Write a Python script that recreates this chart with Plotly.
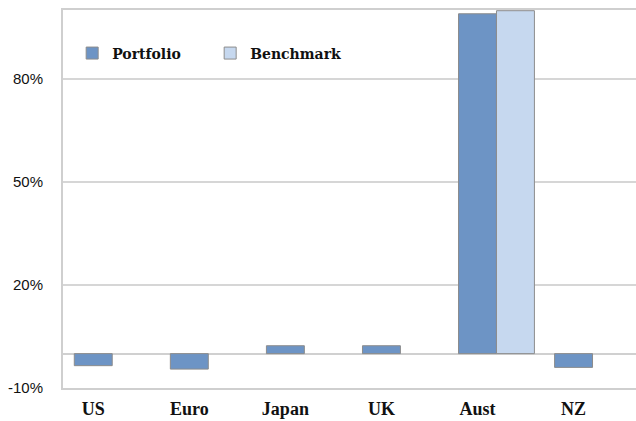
import plotly.graph_objects as go

regions = ["US", "Euro", "Japan", "UK", "Aust", "NZ"]
portfolio = [-3.5, -4.5, 2.3, 2.3, 98.9, -4.0]
benchmark = [None, None, None, None, None, None]
benchmark[4] = 99.8
y_ticks = [-10, 20, 50, 80]
y_tick_text = ["-10%", "20%", "50%", "80%"]

fig = go.Figure()
fig.add_trace(go.Bar(
    name="Portfolio", x=regions, y=portfolio,
    width=0.395, offset=-0.1975,
    marker=dict(color="#6d94c5", line=dict(color="#8c8c8c", width=1)),
))
fig.add_trace(go.Bar(
    name="Benchmark", x=regions, y=benchmark,
    width=0.395, offset=0.1975,
    marker=dict(color="#c6d8ef", line=dict(color="#8c8c8c", width=1)),
))

fig.update_layout(
    width=636, height=421,
    margin=dict(l=63, r=0, t=10, b=33),
    paper_bgcolor="white", plot_bgcolor="white",
    barmode="overlay",
    showlegend=True,
    legend=dict(
        orientation="h", x=0.016, y=0.885, xanchor="left", yanchor="middle",
        font=dict(family="DejaVu Serif", size=14, color="#111", weight="bold"),
        bgcolor="rgba(0,0,0,0)", entrywidth=93,
    ),
    xaxis=dict(
        type="category", range=[-0.315, 5.65], automargin=False,
        showline=True, mirror=True, linecolor="#cfcfcf", linewidth=2,
        showgrid=False, ticks="",
        tickfont=dict(family="Liberation Serif", size=18, color="#111", weight="bold"),
        ticklabelstandoff=3,
    ),
    yaxis=dict(
        range=[-10, 100], tickvals=y_ticks, ticktext=y_tick_text, automargin=False,
        showline=True, linecolor="#cfcfcf", linewidth=2,
        showgrid=True, gridcolor="#d6d6d6", gridwidth=1.5,
        zeroline=True, zerolinecolor="#d0d0d0", zerolinewidth=1.5,
        ticks="", ticklabelstandoff=15,
        tickfont=dict(family="Liberation Sans", size=15, color="#111"),
    ),
)

fig.write_html("out.html")
